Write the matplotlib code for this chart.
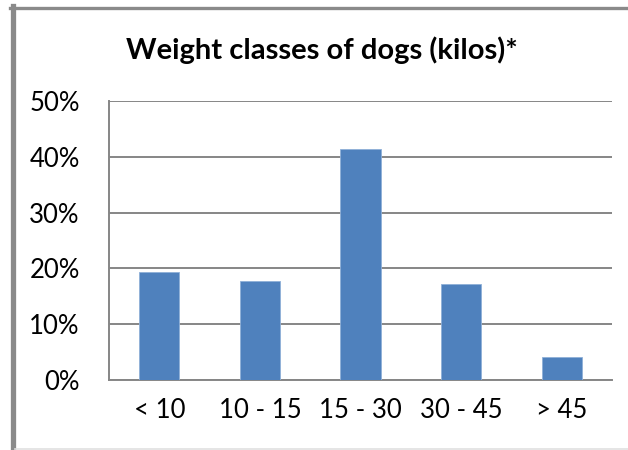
import matplotlib
matplotlib.use("Agg")
import matplotlib.pyplot as plt
from matplotlib.lines import Line2D
from matplotlib.ticker import FuncFormatter

categories = ["< 10", "10 - 15", "15 - 30", "30 - 45", "> 45"]
shares = [19.4, 17.7, 41.4, 17.2, 4.2]  # percent
yticks = [0, 10, 20, 30, 40, 50]

plt.rcParams["font.family"] = ["Lato", "DejaVu Sans"]

fig = plt.figure(figsize=(6.28, 4.5), dpi=100)
W, H = 628, 450
ax = fig.add_axes([109 / W, 1 - 380 / H, (612 - 109) / W, (380 - 101) / H])

ax.bar(range(len(categories)), shares, width=0.4, color="#4F81BD",
       edgecolor="#8FB0D8", linewidth=0.6, zorder=3)

ax.set_xlim(-0.5, len(categories) - 0.5)
ax.set_ylim(0, 50)
ax.set_yticks(yticks)
ax.yaxis.set_major_formatter(FuncFormatter(lambda v, p: f"{v:.0f}%"))
ax.set_xticks(range(len(categories)))
ax.set_xticklabels(categories)
ax.tick_params(axis="both", length=0, labelsize=18.5, colors="black")
ax.tick_params(axis="y", pad=21)
ax.tick_params(axis="x", pad=13)

ax.grid(axis="y", color="#868686", linewidth=1.4, zorder=0)
for s in ["top", "right"]:
    ax.spines[s].set_visible(False)
for s in ["left", "bottom"]:
    ax.spines[s].set_color("#868686")
    ax.spines[s].set_linewidth(1.4)

fig.text(322 / W, 1 - 50 / H, "Weight classes of dogs (kilos)*",
         ha="center", va="center", fontsize=21, fontweight="bold")

# outer chart frame
fig.add_artist(Line2D([12.5 / W, 12.5 / W], [0, 1 - 6 / H], color="#8a8a8a",
                      linewidth=3.8, transform=fig.transFigure))
fig.add_artist(Line2D([10 / W, 1], [1 - 7.5 / H, 1 - 7.5 / H], color="#8a8a8a",
                      linewidth=2.4, transform=fig.transFigure))
fig.add_artist(Line2D([15 / W, 1], [1 - 449 / H, 1 - 449 / H], color="#e0e0e0",
                      linewidth=1.2, transform=fig.transFigure))

fig.savefig("out.png", dpi=100)
